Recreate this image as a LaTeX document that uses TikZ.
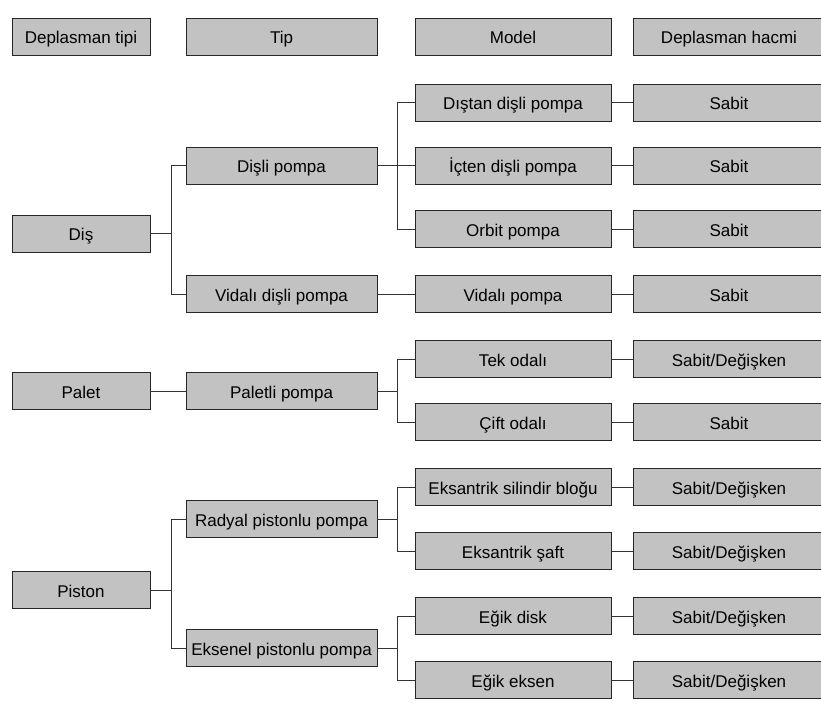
\documentclass[tikz,border=0pt]{standalone}
\usepackage{fontspec}
\setmainfont{Liberation Sans}
\usetikzlibrary{calc}

\begin{document}
\begin{tikzpicture}[%
    x=1pt,y=-1pt,%
    box/.style={draw=black!85, line width=0.9pt, fill=black!24,%
      minimum height=37pt, inner sep=0pt, text height=15pt, text depth=0.5pt,%
      font=\fontsize{17}{20}\selectfont},%
    boxA/.style={box, minimum width=138pt},%
    boxB/.style={box, minimum width=191pt},%
    boxC/.style={box, minimum width=196pt},%
    boxD/.style={box, minimum width=192pt},%
    link/.style={line width=0.8pt, draw=black!80}%
  ]
  \useasboundingbox (0,0) rectangle (821,704);

  %
  % Définitions
  %
  \pgfmathsetmacro{\xa}{81};%
  \pgfmathsetmacro{\xb}{281.5};%
  \pgfmathsetmacro{\xc}{513};%
  \pgfmathsetmacro{\xd}{729};%
  \pgfmathsetmacro{\yh}{36.5};%
  \coordinate (busA) at (171,0);%
  \coordinate (busB) at (397,0);%

  %
  % Dessin
  %
  % En-têtes
  \node[boxA] (hType) at (\xa,\yh) {Deplasman tipi};
  \node[boxB] (hTip) at (\xb,\yh) {Tip};
  \node[boxC] (hModel) at (\xc,\yh) {Model};
  \node[boxD] (hHacim) at (\xd,\yh) {Deplasman hacmi};

  % Deplasman tipi
  \node[boxA] (Dis) at (\xa,233.5) {Diş};
  \node[boxA] (Palet) at (\xa,391) {Palet};
  \node[boxA] (Piston) at (\xa,590) {Piston};

  % Tip
  \node[boxB] (DisliP) at (\xb,165.5) {Dişli pompa};
  \node[boxB] (VidaliDisliP) at (\xb,294) {Vidalı dişli pompa};
  \node[boxB] (PaletliP) at (\xb,391) {Paletli pompa};
  \node[boxB] (RadyalP) at (\xb,519) {Radyal pistonlu pompa};
  \node[boxB] (EksenelP) at (\xb,648) {Eksenel pistonlu pompa};

  % Model et hacim
  \foreach \name/\y/\model/\hacim in {%
      Distan/102.5/Dıştan dişli pompa/Sabit,%
      Icten/165.5/İçten dişli pompa/Sabit,%
      Orbit/229/Orbit pompa/Sabit,%
      Vidali/294/Vidalı pompa/Sabit,%
      Tek/359/Tek odalı/Sabit\slash Değişken,%
      Cift/422/Çift odalı/Sabit,%
      Silindir/487/Eksantrik silindir bloğu/Sabit\slash Değişken,%
      Saft/551/Eksantrik şaft/Sabit\slash Değişken,%
      Disk/616/Eğik disk/Sabit\slash Değişken,%
      Eksen/680/Eğik eksen/Sabit\slash Değişken} {%
    \node[boxC] (\name) at (\xc,\y) {\model};
    \node[boxD] (h\name) at (\xd,\y) {\hacim};
    \draw[link] (\name.east) -- (h\name.west);
  }

  % Liaisons Deplasman tipi - Tip
  \draw[link] (Dis.east) -- (Dis.east -| busA) |- (DisliP.west);%
  \draw[link] (Dis.east -| busA) |- (VidaliDisliP.west);%
  \draw[link] (Palet.east) -- (PaletliP.west);%
  \draw[link] (Piston.east) -- (Piston.east -| busA) |- (RadyalP.west);%
  \draw[link] (Piston.east -| busA) |- (EksenelP.west);%

  % Liaisons Tip - Model
  \draw[link] (DisliP.east) -- (Icten.west);%
  \draw[link] (DisliP.east -| busB) |- (Distan.west);%
  \draw[link] (DisliP.east -| busB) |- (Orbit.west);%
  \draw[link] (VidaliDisliP.east) -- (Vidali.west);%
  \draw[link] (PaletliP.east) -- (PaletliP.east -| busB) |- (Tek.west);%
  \draw[link] (PaletliP.east -| busB) |- (Cift.west);%
  \draw[link] (RadyalP.east) -- (RadyalP.east -| busB) |- (Silindir.west);%
  \draw[link] (RadyalP.east -| busB) |- (Saft.west);%
  \draw[link] (EksenelP.east) -- (EksenelP.east -| busB) |- (Disk.west);%
  \draw[link] (EksenelP.east -| busB) |- (Eksen.west);%

\end{tikzpicture}
\end{document}
